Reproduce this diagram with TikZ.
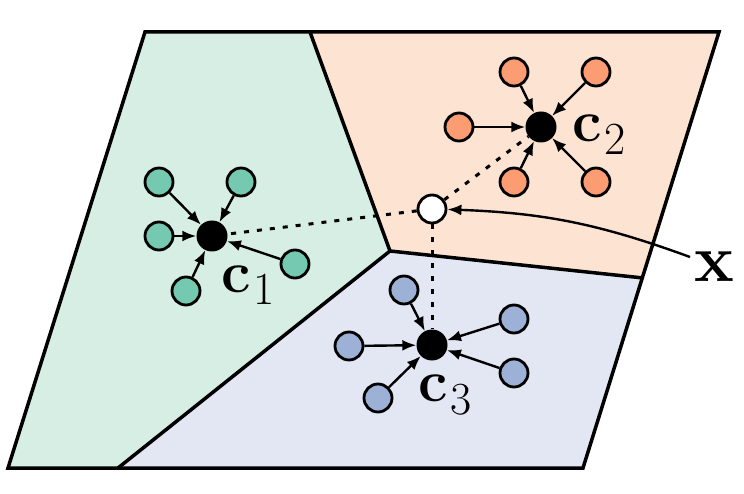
\documentclass[tikz,border=0pt]{standalone}
\usetikzlibrary{arrows.meta,calc}
\definecolor{greenreg}{RGB}{214,238,227}
\definecolor{greendot}{RGB}{116,201,176}
\definecolor{orangereg}{RGB}{253,227,210}
\definecolor{orangedot}{RGB}{251,156,115}
\definecolor{bluereg}{RGB}{227,231,243}
\definecolor{bluedot}{RGB}{157,177,215}
\newcommand\cvec[1]{\textbf{c}\kern3pt\raisebox{-13pt}{\fontsize{46}{52}\selectfont #1}}
\tikzset{
  pt/.style={circle, draw=black, line width=2.8pt, minimum size=28pt, inner sep=0pt},
  gpt/.style={pt, fill=greendot},
  opt/.style={pt, fill=orangedot},
  bpt/.style={pt, fill=bluedot},
  ctr/.style={circle, fill=black, minimum size=31pt, inner sep=0pt},
  qpt/.style={pt, fill=white},
  arr/.style={line width=2.4pt, -{Latex[length=14pt,width=11pt]}},
  dotline/.style={line width=3pt, dash pattern=on 5pt off 8pt},
  border/.style={line width=3.5pt, line join=miter},
  lab/.style={font=\fontsize{59}{70}\selectfont, inner sep=0pt},
}
\begin{document}
\begin{tikzpicture}[x=1pt, y=-1pt]
\useasboundingbox (0,0) rectangle (744,494);
% corners
\coordinate (TL) at (145,32);
\coordinate (TR) at (719,32);
\coordinate (BR) at (583,468);
\coordinate (BL) at (8,468);
\coordinate (T) at (310,32);
\coordinate (J) at (390,251);
\coordinate (B) at (118,468);
\coordinate (R) at ($(TR)!0.564!(BR)$);
% regions
\fill[greenreg] (TL) -- (T) -- (J) -- (B) -- (BL) -- cycle;
\fill[orangereg] (T) -- (TR) -- (R) -- (J) -- cycle;
\fill[bluereg] (J) -- (R) -- (BR) -- (B) -- cycle;
\draw[border] (TL) -- (TR) -- (BR) -- (BL) -- cycle;
\draw[border] (T) -- (J) -- (R);
\draw[border] (J) -- (B);
% centroids
\node[ctr] (c1) at (212,236) {};
\node[ctr] (c2) at (541,127) {};
\node[ctr] (c3) at (432,345) {};
\node[qpt] (xp) at (432,209) {};
% green points
\node[gpt] (g1) at (159,182) {};
\node[gpt] (g2) at (241,182) {};
\node[gpt] (g3) at (159,236) {};
\node[gpt] (g4) at (186,291) {};
\node[gpt] (g5) at (295,264) {};
% orange points
\node[opt] (o1) at (514,72) {};
\node[opt] (o2) at (596,72) {};
\node[opt] (o3) at (459,127) {};
\node[opt] (o4) at (514,182) {};
\node[opt] (o5) at (596,182) {};
% blue points
\node[bpt] (b1) at (404,290) {};
\node[bpt] (b2) at (514,319) {};
\node[bpt] (b3) at (514,373) {};
\node[bpt] (b4) at (349,346) {};
\node[bpt] (b5) at (378,398) {};
% arrows
\foreach \p in {g1,g2,g3,g4,g5} \draw[arr] (\p) -- (c1);
\foreach \p in {o1,o2,o3,o4,o5} \draw[arr] (\p) -- (c2);
\foreach \p in {b1,b2,b3,b4,b5} \draw[arr] (\p) -- (c3);
% dotted distances
\draw[dotline] (xp) -- (c1);
\draw[dotline] (xp) -- (c2);
\draw[dotline] (xp) -- (c3);
% labels
\node[lab, anchor=base west] (l1) at (221,292) {\cvec{1}};
\node[lab, anchor=base west] (l2) at (572,142) {\cvec{2}};
\node[lab, anchor=base west] (l3) at (418,401) {\cvec{3}};
\node[lab, font=\fontsize{67}{75}\selectfont, anchor=base west] (lx) at (694,282) {\textbf{x}};
\coordinate (xs) at (690,257);
\draw[arr] (xs) to[bend right=9] (xp);
\end{tikzpicture}
\end{document}
